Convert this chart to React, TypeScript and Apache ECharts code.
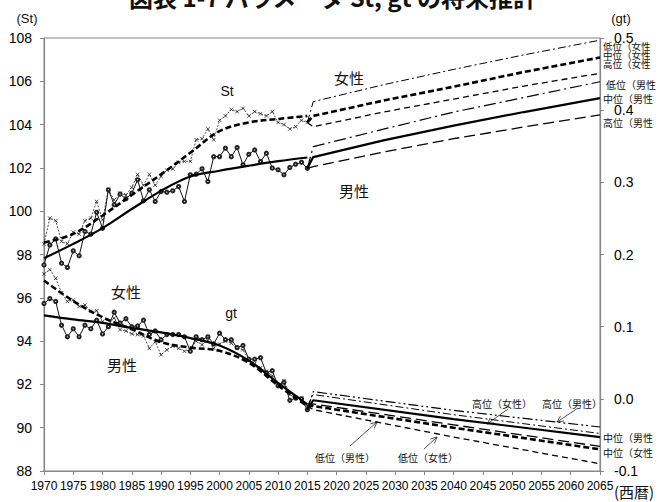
import React, { useEffect, useRef } from 'react';
import * as echarts from 'echarts';

const TITLE = '図表 1-7 パラメータ St, gt の将来推計';

// observed years 1970..2015
const OBS_YEARS: number[] = Array.from({ length: 46 }, (_, i) => 1970 + i);
const FIT_YEARS: number[] = [1970, 1975, 1980, 1985, 1990, 1995, 2000, 2005, 2010, 2015];
const PROJ_YEARS: number[] = [2015, 2016, 2028, 2040, 2052, 2065];
const GT_PROJ_YEARS: number[] = [2015, 2016, 2040, 2065];

// ---- St (left axis) ----
const ST_FEMALE_OBS: number[] = [
  98.49, 99.68, 99.56, 98.6, 98.5, 99.03, 98.94, 99.56, 99.68, 100.45,
  99.6, 101.0, 100.52, 100.83, 100.75, 101.1, 101.7, 101.2, 101.7, 101.2,
  101.6, 101.9, 101.95, 102.25, 102.3, 102.3, 103.3, 103.35, 103.8, 103.3,
  104.2, 104.4, 104.7, 104.6, 104.75, 104.4, 104.6, 104.5, 104.4, 104.6,
  104.1, 104.0, 103.8, 103.9, 104.2, 104.1,
];
const ST_MALE_OBS: number[] = [
  97.52, 98.44, 98.72, 97.6, 97.4, 98.17, 97.94, 99.06, 98.94, 99.95,
  99.21, 100.99, 100.3, 100.79, 100.57, 100.83, 101.45, 100.48, 100.99, 100.45,
  100.91, 100.88, 100.94, 101.14, 100.45, 101.68, 101.71, 101.96, 101.37, 102.52,
  102.52, 102.91, 102.52, 102.94, 102.14, 102.63, 102.83, 102.29, 102.68, 101.99,
  101.91, 101.68, 102.02, 102.17, 102.26, 101.98,
];
const ST_FEMALE_FIT: number[] = [98.55, 98.95, 99.8, 100.75, 101.7, 102.7, 103.7, 104.1, 104.26, 104.4];
const ST_MALE_FIT: number[] = [97.83, 98.49, 99.22, 100.1, 100.94, 101.6, 101.87, 102.1, 102.31, 102.48];

const ST_F_LOW: number[] = [104.1, 105.06, 105.84, 106.55, 107.22, 107.9];
const ST_F_MID: number[] = [104.1, 104.4, 105.11, 105.75, 106.43, 107.1];
const ST_F_HIGH: number[] = [104.1, 103.9, 104.58, 105.18, 105.78, 106.37];
const ST_M_LOW: number[] = [101.98, 102.98, 103.79, 104.58, 105.25, 105.98];
const ST_M_MID: number[] = [101.98, 102.5, 103.27, 103.95, 104.58, 105.22];
const ST_M_HIGH: number[] = [101.98, 102.06, 102.73, 103.35, 103.89, 104.45];

// ---- gt (right axis) ----
const GT_FEMALE_OBS: number[] = [
  0.173, 0.179, 0.167, 0.147, 0.135, 0.137, 0.128, 0.130, 0.121, 0.122,
  0.107, 0.103, 0.112, 0.096, 0.094, 0.090, 0.089, 0.087, 0.070, 0.079,
  0.061, 0.068, 0.073, 0.070, 0.066, 0.068, 0.080, 0.075, 0.081, 0.070,
  0.076, 0.080, 0.077, 0.070, 0.068, 0.054, 0.049, 0.043, 0.038, 0.032,
  0.019, 0.025, 0.006, 0.002, 0.001, -0.010,
];
const GT_MALE_OBS: number[] = [
  0.132, 0.139, 0.135, 0.102, 0.086, 0.097, 0.086, 0.102, 0.097, 0.109,
  0.090, 0.100, 0.120, 0.105, 0.111, 0.100, 0.101, 0.109, 0.089, 0.094,
  0.082, 0.089, 0.089, 0.089, 0.086, 0.066, 0.086, 0.082, 0.086, 0.076,
  0.091, 0.082, 0.082, 0.071, 0.074, 0.055, 0.055, 0.057, 0.036, 0.039,
  0.018, 0.023, -0.002, 0.001, 0.000, -0.015,
];
const GT_FEMALE_FIT: number[] = [0.164, 0.1355, 0.113, 0.0965, 0.0785, 0.071, 0.0665, 0.05, 0.0185, -0.01];
const GT_MALE_FIT: number[] = [0.1157, 0.11, 0.1052, 0.0983, 0.092, 0.0842, 0.074, 0.053, 0.0221, -0.0076];

const GT_M_HIGH: number[] = [-0.015, 0.010, -0.016, -0.039];
const GT_F_HIGH: number[] = [-0.010, 0.006, -0.022, -0.048];
const GT_M_MID: number[] = [-0.015, -0.002, -0.028, -0.053];
const GT_M_LOW: number[] = [-0.015, -0.007, -0.036, -0.066];
const GT_F_MID: number[] = [-0.010, -0.010, -0.040, -0.070];
const GT_F_LOW: number[] = [-0.010, -0.015, -0.053, -0.090];

const JP = "'Noto Sans CJK JP', 'Noto Sans', sans-serif";
const LAT = "'Liberation Sans', Arial, sans-serif";

const pairs = (xs: number[], ys: number[]) => xs.map((x, i) => [x, ys[i]]);

type St = { width: number; type?: any; smooth?: boolean | number; marker?: 'x' | 'o'; color?: string };

function ln(xs: number[], ys: number[], axis: number, s: St) {
  const color = s.color ?? '#000';
  const base: any = {
    type: 'line',
    yAxisIndex: axis,
    data: pairs(xs, ys),
    smooth: s.smooth ?? false,
    silent: true,
    emphasis: { disabled: true },
    lineStyle: { color, width: s.width, type: s.type ?? 'solid' },
    showSymbol: !!s.marker,
    symbol: 'none',
    z: s.marker ? 2 : 3,
  };
  if (s.marker === 'x') {
    base.symbol = 'path://M0 0L10 10M10 0L0 10';
    base.symbolSize = 3.5;
    base.itemStyle = { color: 'transparent', borderColor: '#222', borderWidth: 0.8 };
  } else if (s.marker === 'o') {
    base.symbol = 'emptyCircle';
    base.symbolSize = 3.2;
    base.itemStyle = { color: '#222', borderColor: '#222', borderWidth: 0.8 };
  }
  return base;
}

const HEAVY_DASH = [6, 3];
const THIN_DASH = [6, 4];
const LONG_DASH = [11, 5];
const DASH_DOT = [8, 3, 2, 3];
const DASH_DOT_DOT = [10, 3, 2, 3, 2, 3];

function arrow(x1: number, y1: number, x2: number, y2: number) {
  const a = Math.atan2(y2 - y1, x2 - x1);
  const L = 7;
  const sp = 0.45;
  const p1 = [x2 - L * Math.cos(a - sp), y2 - L * Math.sin(a - sp)];
  const p2 = [x2 - L * Math.cos(a + sp), y2 - L * Math.sin(a + sp)];
  return [
    { type: 'line', shape: { x1, y1, x2, y2 }, style: { stroke: '#222', lineWidth: 0.8 }, silent: true },
    { type: 'polyline', shape: { points: [p1, [x2, y2], p2] }, style: { stroke: '#222', lineWidth: 0.8, fill: 'none' }, silent: true },
  ];
}

function txt(text: string, x: number, y: number, size: number, align: string = 'center', font: string = JP, weight: string = 'normal') {
  return {
    type: 'text',
    x,
    y,
    silent: true,
    style: { text, fontSize: size, fontFamily: font, fontWeight: weight, fill: '#111', textAlign: align, textVerticalAlign: 'middle' },
  };
}

export default function App() {
  const ref = useRef<HTMLDivElement>(null);
  useEffect(() => {
    document.body.style.margin = '0';
    const chart = echarts.init(ref.current!, undefined, { renderer: 'svg' });
    const axisLine = { show: true, onZero: false, lineStyle: { color: '#868686', width: 1.2 } };
    const option: any = {
      animation: false,
      backgroundColor: '#fff',
      grid: { left: 44, right: 59, top: 38, bottom: 31, show: true, borderColor: '#868686', borderWidth: 1, outerBoundsMode: 'none' },
      xAxis: {
        type: 'value',
        min: 1970,
        max: 2065,
        interval: 5,
        axisLine,
        axisTick: { show: true, length: 4, lineStyle: { color: '#868686' } },
        splitLine: { show: false },
        axisLabel: { fontSize: 12, fontFamily: LAT, color: '#000', margin: 9, showMinLabel: true, showMaxLabel: true, formatter: (v: number) => String(v) },
      },
      yAxis: [
        {
          type: 'value',
          min: 88,
          max: 108,
          interval: 2,
          position: 'left',
          axisLine,
          axisTick: { show: true, length: 4, lineStyle: { color: '#868686' } },
          splitLine: { show: false },
          axisLabel: { fontSize: 14, fontFamily: LAT, color: '#000', margin: 12 },
        },
        {
          type: 'value',
          min: -0.1,
          max: 0.5,
          interval: 0.1,
          position: 'right',
          axisLine,
          axisTick: { show: true, length: 4, lineStyle: { color: '#868686' } },
          splitLine: { show: false },
          axisLabel: { fontSize: 14, fontFamily: LAT, color: '#000', margin: 14, formatter: (v: number) => v.toFixed(1) },
        },
      ],
      series: [
        // St observed
        ln(OBS_YEARS, ST_FEMALE_OBS, 0, { width: 0.8, type: [2, 1.5], marker: 'x', color: '#222' }),
        ln(OBS_YEARS, ST_MALE_OBS, 0, { width: 1, marker: 'o', color: '#111' }),
        // St fitted
        ln(FIT_YEARS, ST_FEMALE_FIT, 0, { width: 2.6, type: HEAVY_DASH, smooth: 0.35 }),
        ln(FIT_YEARS, ST_MALE_FIT, 0, { width: 2.2, smooth: 0.35 }),
        // St projections
        ln(PROJ_YEARS, ST_F_LOW, 0, { width: 1, type: DASH_DOT }),
        ln(PROJ_YEARS, ST_F_MID, 0, { width: 2.6, type: HEAVY_DASH }),
        ln(PROJ_YEARS, ST_F_HIGH, 0, { width: 1.3, type: THIN_DASH }),
        ln(PROJ_YEARS, ST_M_LOW, 0, { width: 1.2, type: [12, 4, 2, 4] }),
        ln(PROJ_YEARS, ST_M_MID, 0, { width: 2.2 }),
        ln(PROJ_YEARS, ST_M_HIGH, 0, { width: 1.3, type: LONG_DASH }),
        // gt observed
        ln(OBS_YEARS, GT_FEMALE_OBS, 1, { width: 0.8, type: [2, 1.5], marker: 'x', color: '#222' }),
        ln(OBS_YEARS, GT_MALE_OBS, 1, { width: 1, marker: 'o', color: '#111' }),
        // gt fitted
        ln(FIT_YEARS, GT_FEMALE_FIT, 1, { width: 2.6, type: HEAVY_DASH, smooth: 0.35 }),
        ln(FIT_YEARS, GT_MALE_FIT, 1, { width: 2.2, smooth: 0.35 }),
        // gt projections
        ln(GT_PROJ_YEARS, GT_M_HIGH, 1, { width: 1.2, type: DASH_DOT_DOT }),
        ln(GT_PROJ_YEARS, GT_F_HIGH, 1, { width: 1, type: DASH_DOT }),
        ln(GT_PROJ_YEARS, GT_M_MID, 1, { width: 2.2 }),
        ln(GT_PROJ_YEARS, GT_M_LOW, 1, { width: 1.3, type: LONG_DASH }),
        ln(GT_PROJ_YEARS, GT_F_MID, 1, { width: 2.6, type: HEAVY_DASH }),
        ln(GT_PROJ_YEARS, GT_F_LOW, 1, { width: 1.3, type: THIN_DASH }),
      ],
      graphic: {
        elements: [
          txt(TITLE, 333, -4, 24, 'center', JP, 'bold'),
          txt('(St)', 27, 18, 13, 'center', LAT),
          txt('(gt)', 621, 18, 13, 'center', LAT),
          txt('(西暦)', 634, 491, 15, 'center', JP),
          txt('St', 227, 91, 14, 'center', LAT),
          txt('女性', 349, 77, 15),
          txt('男性', 354, 190, 15),
          txt('女性', 126, 291, 15),
          txt('男性', 122, 364, 15),
          txt('gt', 231, 313, 14, 'center', LAT),
          txt('低位（女性', 603, 46, 9.5, 'left'),
          txt('中位（女性', 603, 55, 9.5, 'left'),
          txt('高位（女性', 603, 64, 9.5, 'left'),
          txt('低位（男性', 606, 84, 10, 'left'),
          txt('中位（男性', 603, 98, 10, 'left'),
          txt('高位（男性', 603, 122, 10, 'left'),
          txt('中位（男性', 603, 437, 10, 'left'),
          txt('中位（女性', 603, 452, 10, 'left'),
          txt('低位（男性）', 345, 457, 10),
          txt('低位（女性）', 428, 457, 10),
          txt('高位（女性）', 502, 403, 10),
          txt('高位（男性）', 572, 403, 10),
          ...arrow(350, 446, 377, 422),
          ...arrow(424, 449, 437, 437),
          ...arrow(508, 409, 487, 424),
          ...arrow(578, 408, 557, 422),
        ],
      },
    };
    chart.setOption(option);
    return () => chart.dispose();
  }, []);
  return <div ref={ref} style={{ width: 659, height: 502 }} />;
}
